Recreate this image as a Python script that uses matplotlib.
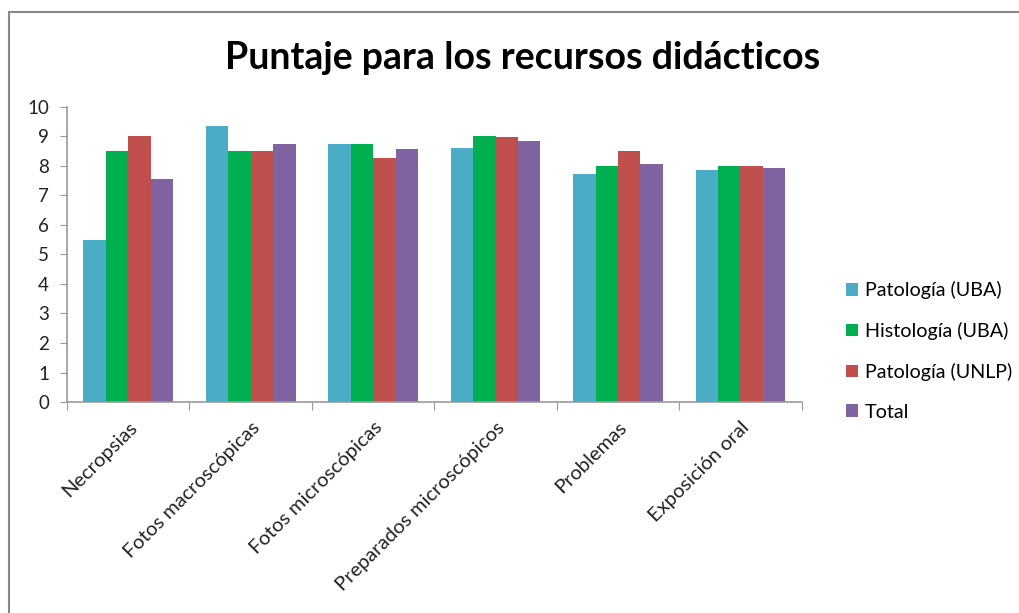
import matplotlib.pyplot as plt
import numpy as np
from matplotlib.patches import Rectangle

plt.rcParams['font.family'] = ['Lato', 'DejaVu Sans']

# categories and series values
categorias = ['Necropsias', 'Fotos macroscópicas', 'Fotos microscópicas',
              'Preparados microscópicos', 'Problemas', 'Exposición oral']
patologia_uba = [5.5, 9.35, 8.72, 8.61, 7.73, 7.87]
histologia_uba = [8.5, 8.5, 8.75, 9.01, 7.98, 8.0]
patologia_unlp = [9.0, 8.5, 8.25, 8.97, 8.5, 8.0]
total = [7.55, 8.75, 8.57, 8.85, 8.05, 7.94]

series = [('Patología (UBA)', patologia_uba, '#4BACC6'),
          ('Histología (UBA)', histologia_uba, '#00B050'),
          ('Patología (UNLP)', patologia_unlp, '#C0504D'),
          ('Total', total, '#8064A2')]

fig = plt.figure(figsize=(10.2, 6.13), dpi=100)
ax = fig.add_axes([0.0657, 0.344, 0.7203, 0.482])

x = np.arange(len(categorias))
w = 0.183
for i, (nombre, vals, col) in enumerate(series):
    ax.bar(x + (i - 1.5) * w, vals, w, color=col, label=nombre)

ax.set_xlim(-0.5, len(categorias) - 0.5)
ax.set_ylim(0, 10)
ax.set_yticks(range(0, 11))
ax.set_xticks(np.arange(-0.5, len(categorias)), minor=False)
ax.set_xticklabels([])
ax.set_xticks(x, minor=True)
ax.set_xticklabels(categorias, minor=True, rotation=45, ha='right',
                   rotation_mode='anchor', fontsize=14.5, color='#222222')
ax.tick_params(axis='x', which='minor', length=0, pad=12)
ax.tick_params(axis='x', which='major', length=6, color='#999999', direction='out')
ax.tick_params(axis='y', length=5, color='#999999', direction='out',
               labelsize=13.5, labelcolor='#222222', pad=8)

for s in ['top', 'right']:
    ax.spines[s].set_visible(False)
for s in ['left', 'bottom']:
    ax.spines[s].set_color('#999999')
    ax.spines[s].set_linewidth(1.2)

fig.text(0.512, 0.905, 'Puntaje para los recursos didácticos', ha='center',
         va='center', fontsize=27, fontweight='bold', color='black')

leg = fig.legend(loc='upper left', bbox_to_anchor=(0.812, 0.57), frameon=False,
                 fontsize=14.2, handlelength=0.6, handleheight=0.6,
                 handletextpad=0.35, labelspacing=1.15)

# outer chart border
fig.add_artist(Rectangle((9 / 1020, -0.1), 1.2, 1 - 12 / 613 + 0.1,
                         transform=fig.transFigure, fill=False,
                         edgecolor='#888888', linewidth=1.5))

fig.savefig('out.png', dpi=100, facecolor='white')
